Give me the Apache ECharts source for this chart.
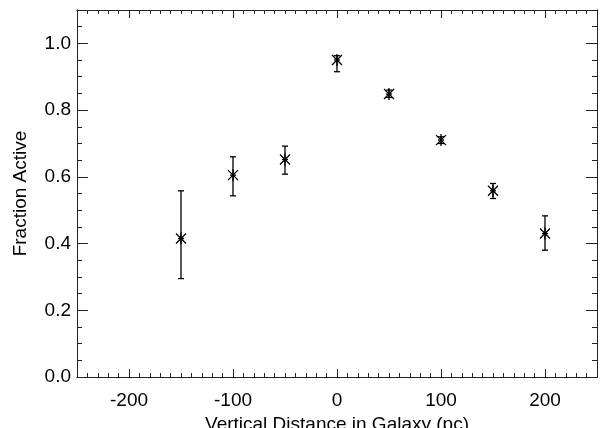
<!DOCTYPE html>
<html>
<head>
<meta charset="utf-8">
<script src="https://cdn.jsdelivr.net/npm/echarts@6/dist/echarts.min.js"></script>
<style>html,body{margin:0;padding:0;background:#fff;}#c{width:600px;height:428px;}</style>
</head>
<body>
<div id="c"></div>
<script>
// Data
var xValues = [-150, -100, -50, 0, 50, 100, 150, 200];
var yValues = [0.415, 0.605, 0.652, 0.950, 0.848, 0.710, 0.558, 0.430];
var yLow    = [0.295, 0.543, 0.608, 0.915, 0.838, 0.700, 0.535, 0.380];
var yHigh   = [0.558, 0.660, 0.692, 0.963, 0.860, 0.720, 0.580, 0.483];
var xTickLabels = [-200, -100, 0, 100, 200];
var yTickLabels = [0.0, 0.2, 0.4, 0.6, 0.8, 1.0];
var xTitle = 'Vertical Distance in Galaxy (pc)';
var yTitle = 'Fraction Active';

var FONT = 'Liberation Sans, Arial, Helvetica, sans-serif';
var FS = 19;
var AX = '#222';
var XMIN = -250, XMAX = 250, YMIN = 0, YMAX = 1.1;

var data = xValues.map(function (x, i) { return [x, yValues[i], yLow[i], yHigh[i]]; });

function xAx(pos, major, showLabel) {
  var a = {
    type: 'value', position: pos, min: XMIN, max: XMAX,
    splitLine: {show: false},
    axisLine: {show: true, onZero: false, lineStyle: {color: AX, width: 1}},
    axisTick: {show: true, inside: true, length: major ? 8 : 4, lineStyle: {color: AX, width: 1}},
    axisLabel: {show: false}
  };
  if (major) {
    a.interval = 50;
    a.axisTick.customValues = xTickLabels;
    a.axisLabel = {show: showLabel, customValues: xTickLabels, color: '#000', fontFamily: FONT, fontSize: FS, margin: 14};
  } else {
    a.interval = 10;
  }
  if (showLabel) {
    a.name = xTitle; a.nameLocation = 'middle'; a.nameGap = 32;
    a.nameTextStyle = {color: '#000', fontFamily: FONT, fontSize: FS};
  }
  return a;
}
function yAx(pos, major, showLabel) {
  var a = {
    type: 'value', position: pos, min: YMIN, max: YMAX,
    splitLine: {show: false},
    axisLine: {show: true, onZero: false, lineStyle: {color: AX, width: 1}},
    axisTick: {show: true, inside: true, length: major ? 11 : 5, lineStyle: {color: AX, width: 1}},
    axisLabel: {show: false}
  };
  if (major) {
    a.interval = 0.2;
    a.axisTick.customValues = yTickLabels;
    a.axisLabel = {show: showLabel, customValues: yTickLabels, color: '#000', fontFamily: FONT, fontSize: FS, margin: 6,
      formatter: function (v) { return v.toFixed(1); }};
  } else {
    a.interval = 0.05;
  }
  if (showLabel) {
    a.name = yTitle; a.nameLocation = 'middle'; a.nameGap = 47; a.nameRotate = 90;
    a.nameTextStyle = {color: '#000', fontFamily: FONT, fontSize: FS};
  }
  return a;
}

var chart = echarts.init(document.getElementById('c'), null, {renderer: 'canvas'});
chart.setOption({
  animation: false,
  backgroundColor: '#fff',
  grid: {left: 77, right: 3, top: 10, bottom: 51, containLabel: false, outerBoundsMode: 'none'},
  xAxis: [xAx('bottom', true, true), xAx('bottom', false, false), xAx('top', true, false), xAx('top', false, false)],
  yAxis: [yAx('left', true, true), yAx('left', false, false), yAx('right', true, false), yAx('right', false, false)],
  series: [{
    type: 'custom',
    xAxisIndex: 0, yAxisIndex: 0,
    data: data,
    renderItem: function (params, api) {
      var x = api.value(0), y = api.value(1), lo = api.value(2), hi = api.value(3);
      var p = api.coord([x, y]);
      var pl = api.coord([x, lo]);
      var ph = api.coord([x, hi]);
      var cw = 3, s = 5;
      var st = {stroke: '#000', lineWidth: 1.3};
      var lines = [
        [pl[0], pl[1], ph[0], ph[1]],
        [pl[0] - cw, pl[1], pl[0] + cw, pl[1]],
        [ph[0] - cw, ph[1], ph[0] + cw, ph[1]],
        [p[0] - s, p[1] - s, p[0] + s, p[1] + s],
        [p[0] - s, p[1] + s, p[0] + s, p[1] - s],
        [p[0], p[1] - s - 1, p[0], p[1] + s + 1],
        [p[0] - 3, p[1], p[0] + 3, p[1]]
      ];
      return {
        type: 'group',
        children: lines.map(function (l) {
          return {type: 'line', shape: {x1: l[0], y1: l[1], x2: l[2], y2: l[3]}, style: st};
        })
      };
    }
  }]
});
</script>
</body>
</html>
